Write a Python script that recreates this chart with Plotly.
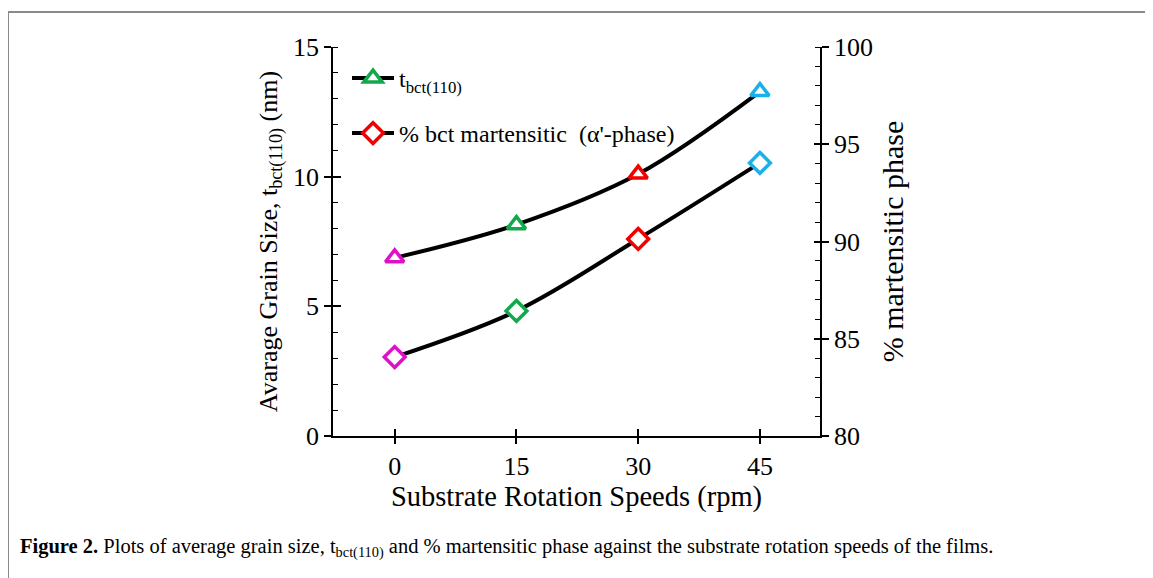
import plotly.graph_objects as go

speeds = [0, 15, 30, 45]
grain_size = [6.87, 8.15, 10.1, 13.28]
martensite_pct = [84.06, 86.43, 90.13, 94.04]
point_colors = ["#e010c8", "#14a84c", "#f00000", "#1ab0e8"]

x_ticks = [0, 15, 30, 45]
left_ticks = [0, 5, 10, 15]
right_ticks = [80, 85, 90, 95, 100]

OFF = 8  # page body margin
W, H = 1153 - OFF, 578 - OFF
L, R, T, B = 333 - OFF, 820 - OFF, 47 - OFF, 436 - OFF
pw, ph = R - L, B - T

def px(xs):
    return (xs - OFF - L) / pw

def py(ys):
    return (B - (ys - OFF)) / ph

FONT = "Liberation Serif"
MSIZE = 16

fig = go.Figure()

fig.add_trace(go.Scatter(
    x=speeds, y=grain_size, mode="lines+markers", line=dict(color="black", width=4, shape="spline"),
    marker=dict(symbol="triangle-up", size=MSIZE, color="white",
                line=dict(color=point_colors, width=3.5)),
    showlegend=False, yaxis="y"))
fig.add_trace(go.Scatter(
    x=speeds, y=martensite_pct, mode="lines+markers", line=dict(color="black", width=4, shape="spline"),
    marker=dict(symbol="diamond", size=MSIZE, color="white",
                line=dict(color=point_colors, width=3.5)),
    showlegend=False, yaxis="y2"))

# legend entries
fig.add_trace(go.Scatter(
    x=[None], y=[None], mode="lines+markers", name="t<sub>bct(110)</sub>",
    line=dict(color="black", width=4),
    marker=dict(symbol="triangle-up", size=MSIZE, color="white", line=dict(color="#14a84c", width=3.5)),
    legend="legend"))
fig.add_trace(go.Scatter(
    x=[None], y=[None], mode="lines+markers", name="% bct martensitic  (α'-phase)",
    line=dict(color="black", width=4),
    marker=dict(symbol="diamond", size=MSIZE, color="white", line=dict(color="#f00000", width=3.5)),
    legend="legend2"))

axis_common = dict(showgrid=False, zeroline=False, linecolor="black", linewidth=1.5,
                   tickcolor="black", tickwidth=1.5,
                   tickfont=dict(family=FONT, size=26, color="black"))

fig.update_layout(
    width=W, height=H,
    margin=dict(l=L, r=W - R, t=T, b=H - B, autoexpand=False),
    paper_bgcolor="white", plot_bgcolor="white",
    font=dict(family=FONT, color="black"),
    xaxis=dict(range=[-7.6, 52.4], tickvals=x_ticks, ticks="outside", ticklen=6,
               showline=True, mirror=False,
               title=dict(text="Substrate Rotation Speeds (rpm)", font=dict(family=FONT, size=28.5), standoff=0),
               **axis_common),
    xaxis2=dict(range=[-7.6, 52.4], tickvals=x_ticks, ticks="inside", ticklen=7,
                overlaying="x", side="bottom", showticklabels=False, showline=False,
                showgrid=False, zeroline=False, tickcolor="black", tickwidth=1.5),
    yaxis=dict(range=[0, 15], tickvals=left_ticks, ticks="outside", ticklen=7, showline=True,
               minor=dict(dtick=1, ticks="inside", ticklen=5, tickcolor="black", tickwidth=1.2),
               title=dict(text="Avarage Grain Size, t<sub>bct(110)</sub> (nm)", font=dict(family=FONT, size=26), standoff=8),
               **axis_common),
    yaxis3=dict(range=[0, 15], tickvals=left_ticks, ticks="inside", ticklen=8, overlaying="y",
                side="left", showticklabels=False, showline=False, showgrid=False, zeroline=False,
                tickcolor="black", tickwidth=1.5),
    yaxis2=dict(range=[80, 100], tickvals=right_ticks, ticks="outside", ticklen=7, showline=True,
                overlaying="y", side="right",
                minor=dict(dtick=1, ticks="inside", ticklen=5, tickcolor="black", tickwidth=1.2),
                title=dict(text="% martensitic phase", font=dict(family=FONT, size=30), standoff=10),
                **axis_common),
    yaxis4=dict(range=[80, 100], tickvals=right_ticks, ticks="inside", ticklen=6, overlaying="y",
                side="right", showticklabels=False, showline=False, showgrid=False, zeroline=False,
                tickcolor="black", tickwidth=1.5),
    legend=dict(x=px(347), y=py(56), xanchor="left", yanchor="top", bgcolor="rgba(0,0,0,0)",
                font=dict(family=FONT, size=24), itemwidth=42),
    legend2=dict(x=px(347), y=py(111), xanchor="left", yanchor="top", bgcolor="rgba(0,0,0,0)",
                 font=dict(family=FONT, size=24), itemwidth=42),
)

# overlay axes for crossing ticks
fig.add_trace(go.Scatter(x=[None], y=[None], xaxis="x2", yaxis="y3", showlegend=False, hoverinfo="skip"))
fig.add_trace(go.Scatter(x=[None], y=[None], xaxis="x", yaxis="y4", showlegend=False, hoverinfo="skip"))

# figure frame (top and left border)
fig.add_shape(type="line", xref="paper", yref="paper", x0=px(8), x1=px(1160), y0=py(12), y1=py(12),
              line=dict(color="#8a8a8a", width=2))
fig.add_shape(type="line", xref="paper", yref="paper", x0=px(8), x1=px(8), y0=py(12), y1=py(600),
              line=dict(color="#8a8a8a", width=2))

fig.add_annotation(
    xref="paper", yref="paper", x=px(18), y=py(548), xanchor="left", yanchor="middle",
    text="<b>Figure 2.</b> Plots of average grain size, t<sub>bct(110)</sub> and % martensitic phase against the substrate rotation speeds of the films.",
    showarrow=False, font=dict(family=FONT, size=20.5, color="black"))

fig.write_html("out.html")
